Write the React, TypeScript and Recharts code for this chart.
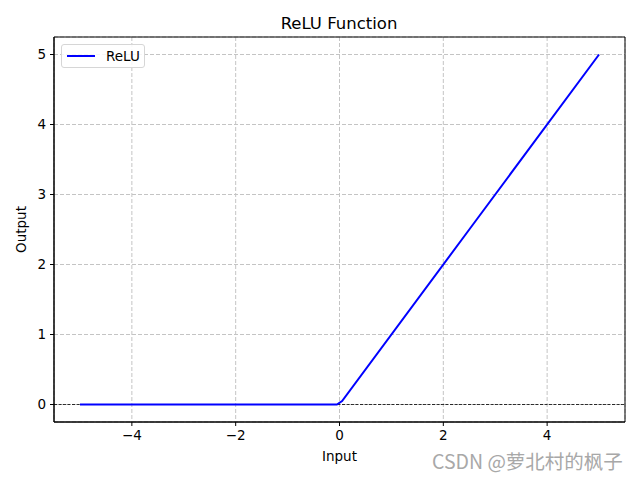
import React from 'react';
import {
  LineChart,
  Line,
  XAxis,
  YAxis,
  CartesianGrid,
  ReferenceLine,
  ReferenceArea,
  Label,
} from 'recharts';

// x / y samples of the ReLU curve (the kink is rounded between two samples)
const xValues = [-5, -2.5, -0.05, 0.05, 2.5, 5];
const reluValues = [0, 0, 0, 0.05, 2.5, 5];

const xTicks = [-4, -2, 0, 2, 4];
const yTicks = [0, 1, 2, 3, 4, 5];

const data = xValues.map((x, i) => ({ x, relu: reluValues[i] }));

const font = '"DejaVu Sans", sans-serif';
const fmt = (v: number) => (v < 0 ? '\u2212' + Math.abs(v) : String(v));

const App: React.FC = () => {
  return (
    <div style={{ position: 'fixed', left: 0, top: 0, width: 640, height: 480, background: '#fff', fontFamily: font }}>
      <div style={{ position: 'absolute', top: 14, width: 640, left: 19, textAlign: 'center', fontSize: 16.5, color: '#000' }}>
        ReLU Function
      </div>
      <LineChart width={640} height={480} data={data} margin={{ top: 37, right: 15, left: 0, bottom: 0 }}>
        <CartesianGrid stroke="#c4c4c4" strokeDasharray="4 2" />
        <XAxis
          dataKey="x"
          type="number"
          domain={[-5.5, 5.5]}
          ticks={xTicks}
          tickFormatter={fmt}
          height={58}
          tickSize={4}
          tickMargin={4}
          stroke="#000"
          tick={{ fill: '#000', fontSize: 13.5, fontFamily: font }}
          allowDataOverflow
        >
          <Label value="Input" position="insideBottom" offset={19} fill="#000" fontSize={13.5} fontFamily={font} />
        </XAxis>
        <YAxis
          type="number"
          domain={[-0.25, 5.25]}
          ticks={yTicks}
          width={54}
          tickSize={4}
          tickMargin={4}
          stroke="#000"
          tick={{ fill: '#000', fontSize: 13.5, fontFamily: font }}
          allowDataOverflow
        >
          <Label value="Output" angle={-90} position="insideLeft" offset={21} fill="#000" fontSize={13.5} fontFamily={font} style={{ textAnchor: 'middle' }} />
        </YAxis>
        <ReferenceLine y={0} stroke="#000" strokeWidth={0.8} strokeDasharray="3 1.5" />
        <ReferenceArea x1={-5.5} x2={5.5} y1={-0.25} y2={5.25} fill="none" stroke="#000" strokeWidth={1} />
        <Line type="linear" dataKey="relu" stroke="#0000ff" strokeWidth={2} dot={false} isAnimationActive={false} />
      </LineChart>
      <div
        style={{
          position: 'absolute',
          left: 61,
          top: 44,
          width: 84,
          height: 24,
          border: '1px solid #d6d6d6',
          borderRadius: 3,
          background: 'rgba(255,255,255,0.85)',
          boxSizing: 'border-box',
          display: 'flex',
          alignItems: 'center',
          fontSize: 13.5,
        }}
      >
        <span style={{ display: 'inline-block', width: 28, height: 2, background: '#0000ff', marginLeft: 5, marginRight: 11 }} />
        <span>ReLU</span>
      </div>
      <div
        style={{
          position: 'absolute',
          left: 432,
          top: 446,
          fontSize: 19.5,
          color: '#a8a8a8',
          fontFamily: '"Noto Sans CJK SC", sans-serif',
          whiteSpace: 'nowrap',
        }}
      >
        CSDN @萝北村的枫子
      </div>
    </div>
  );
};

export default App;
